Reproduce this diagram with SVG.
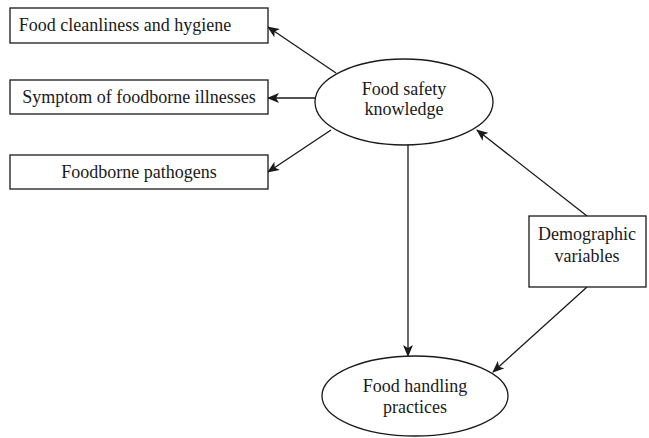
<svg xmlns="http://www.w3.org/2000/svg" width="649" height="438" viewBox="0 0 649 438">
<defs>
<marker id="ah" markerWidth="12" markerHeight="10" refX="11" refY="5" orient="auto" markerUnits="userSpaceOnUse">
<path d="M0,0 L12,5 L0,10 L3,5 Z" fill="#1a1a1a"/>
</marker>
<style>
.box{fill:#fff;stroke:#1a1a1a;stroke-width:1.3}
.ell{fill:#fff;stroke:#1a1a1a;stroke-width:1.3}
.lbl{font-family:"Liberation Serif","Times New Roman",serif;font-size:18px;fill:#1a1a1a;text-anchor:middle}
.con{stroke:#1a1a1a;stroke-width:1.3;fill:none;marker-end:url(#ah)}
</style>
</defs>
<rect width="649" height="438" fill="#fff"/>
<g id="connectors">
<line class="con" x1="336" y1="73" x2="268" y2="27"/>
<line class="con" x1="315" y1="98" x2="268" y2="98"/>
<line class="con" x1="331" y1="130" x2="268" y2="172"/>
<line class="con" x1="408" y1="145" x2="408" y2="356"/>
<line class="con" x1="587" y1="216" x2="477" y2="130"/>
<line class="con" x1="587" y1="287" x2="493" y2="372"/>
</g>
<g id="n-cleanliness">
<rect class="box" x="10" y="8" width="258" height="35"/>
<text class="lbl" x="125" y="31">Food cleanliness and hygiene</text>
</g>
<g id="n-symptom">
<rect class="box" x="10" y="80" width="258" height="34"/>
<text class="lbl" x="139" y="103">Symptom of foodborne illnesses</text>
</g>
<g id="n-pathogens">
<rect class="box" x="10" y="155" width="258" height="34"/>
<text class="lbl" x="139" y="178">Foodborne pathogens</text>
</g>
<g id="n-knowledge">
<ellipse class="ell" cx="404" cy="102" rx="89" ry="43"/>
<text class="lbl" x="404" y="95">Food safety</text>
<text class="lbl" x="404" y="115">knowledge</text>
</g>
<g id="n-demographic">
<rect class="box" x="529" y="216" width="117" height="71"/>
<text class="lbl" x="587" y="240">Demographic</text>
<text class="lbl" x="587" y="262">variables</text>
</g>
<g id="n-practices">
<ellipse class="ell" cx="415" cy="396" rx="93" ry="40"/>
<text class="lbl" x="415" y="392">Food handling</text>
<text class="lbl" x="415" y="413">practices</text>
</g>
</svg>
